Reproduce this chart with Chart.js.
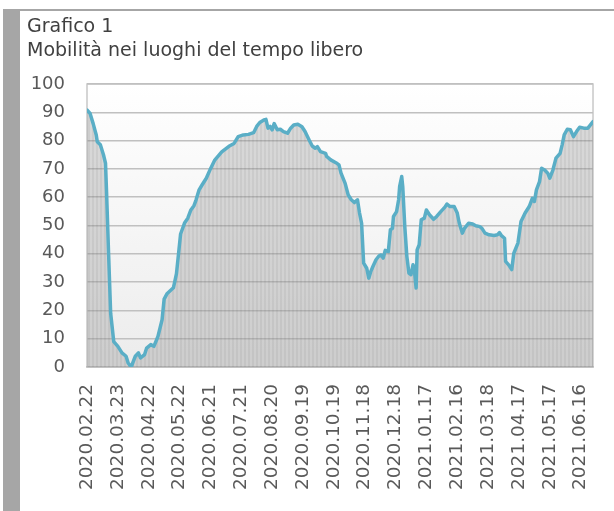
<!DOCTYPE html>
<html lang="it">
<head>
<meta charset="utf-8">
<script src="https://cdn.jsdelivr.net/npm/chart.js@4.4.1/dist/chart.umd.min.js"></script>
<style>
	html, body { margin: 0; padding: 0; background: #fff; }
	.frame { position: relative; width: 614px; height: 511px; overflow: hidden; }
	.side { position: absolute; left: 3px; top: 9px; bottom: 0; width: 17px; background: #a6a6a6; }
	.topline { position: absolute; left: 3px; right: 0; top: 9px; height: 2px; background: #a6a6a6; }
	.title { position: absolute; left: 27px; top: 13px; font: 19px "DejaVu Sans", sans-serif; color: #404040; line-height: 24px; }
	.plot { position: absolute; left: 0; top: 0; width: 614px; height: 511px; }
</style>
</head>
<body>
<div class="frame">
	<div class="side"></div>
	<div class="topline"></div>
	<div class="plot"><canvas id="chart"></canvas></div>
	<div class="title">Grafico 1<br>Mobilità nei luoghi del tempo libero</div>
</div>
<script>
// days since 2020.02.22
const dayIndex = [
	0, 3, 6, 9, 10, 13, 16, 18, 19, 21, 23, 26, 30, 34, 38, 40, 43, 47, 50, 52,
	56, 58, 62, 65, 67, 69, 73, 75, 78, 84, 87, 91, 95, 98, 101, 104, 106, 109, 112, 116,
	120, 124, 131, 138, 143, 147, 152, 157, 162, 165, 168, 172, 174, 176, 178, 180, 182, 185, 188, 191,
	195, 198, 201, 205, 209, 212, 216, 219, 222, 224, 227, 232, 233, 237, 242, 245, 247, 251, 254, 257,
	260, 263, 265, 267, 269, 272, 274, 276, 278, 281, 284, 286, 288, 290, 293, 295, 297, 298, 301, 303,
	304, 306, 307, 309, 311, 313, 315, 317, 318, 320, 321, 323, 325, 328, 330, 333, 337, 340, 344, 348,
	350, 353, 357, 360, 362, 365, 367, 371, 375, 378, 382, 384, 387, 391, 396, 399, 401, 403, 406, 407,
	410, 413, 415, 419, 422, 426, 430, 433, 435, 437, 440, 442, 445, 448, 450, 453, 456, 460, 462, 464,
	467, 470, 473, 476, 479, 483, 487, 492
];

const mobility = [
	90.8, 89.6, 86, 82, 79.6, 78.5, 75, 72, 62, 40, 19, 9, 7.3, 5, 3.8, 1.4, 0, 3.8, 5, 3.2,
	4.4, 6.7, 7.9, 7.3, 9, 10.8, 16.7, 24, 26, 28, 33, 47, 51, 52.6, 55.5, 57, 59, 62.6, 64.4, 66.7,
	70, 73, 76, 78, 79, 81.4, 82, 82.2, 82.8, 85, 86.4, 87.3, 87.5, 84.4, 85, 83.8, 86, 83.8, 84, 83.2,
	82.6, 84.4, 85.5, 85.8, 84.9, 83.2, 80.2, 78.1, 77.3, 77.9, 76.1, 75.5, 74.4, 73.2, 72.2, 71.4, 68.5, 64.9, 60.8, 59.1,
	58.1, 59.1, 54.4, 50.8, 36.7, 34.9, 31.4, 33.8, 35.5, 37.9, 39.3, 39.6, 38.5, 41.2, 40.8, 48.5, 49, 53.2, 54.9, 59.1,
	63.8, 67.3, 63.8, 49.6, 39.1, 33.2, 32.6, 36.1, 35.5, 27.9, 41.4, 43.2, 52, 52.6, 55.5, 53.8, 52.2, 53.2, 54.9, 56.5,
	57.6, 56.7, 56.7, 54.4, 50.8, 47.3, 49, 50.8, 50.5, 49.9, 49.6, 49, 47.3, 46.7, 46.5, 46.7, 47.5, 46.4, 45.5, 37.3,
	36.1, 34.4, 40.2, 43.8, 51.4, 54.4, 56.7, 59.6, 58.5, 62.6, 65.5, 70.2, 69.6, 68.5, 66.7, 69.6, 73.8, 75.5, 78.5, 82,
	84, 83.8, 81.4, 83.2, 84.7, 84.4, 84.4, 86.7
];

const tickLabels = [
	"2020.02.22", "2020.03.23", "2020.04.22", "2020.05.22", "2020.06.21", "2020.07.21",
	"2020.08.20", "2020.09.19", "2020.10.19", "2020.11.18", "2020.12.18", "2021.01.17",
	"2021.02.16", "2021.03.18", "2021.04.17", "2021.05.17", "2021.06.16"
];
const TICK_STEP = 30;
const LAST_DAY = 492;

const FONT = "'DejaVu Sans', sans-serif";
const TEXT_COLOR = "#595959";
const GRID_COLOR = "#c0c0c0";
const LINE_COLOR = "#5aaec6";

// thin vertical stripes for the area under the line
const stripeCanvas = document.createElement("canvas");
stripeCanvas.width = 4;
stripeCanvas.height = 1;
const sctx = stripeCanvas.getContext("2d");
sctx.fillStyle = "rgba(135,135,135,0.40)";
sctx.fillRect(0, 0, 2, 1);
sctx.fillStyle = "rgba(150,150,150,0.35)";
sctx.fillRect(2, 0, 2, 1);
const stripes = sctx.createPattern(stripeCanvas, "repeat");

const plotBackground = {
	id: "plotBackground",
	beforeDraw(chart) {
		const { ctx, chartArea: a } = chart;
		const g = ctx.createLinearGradient(0, a.top, 0, a.bottom);
		g.addColorStop(0, "#ffffff");
		g.addColorStop(1, "#ececec");
		ctx.save();
		ctx.fillStyle = g;
		ctx.fillRect(a.left, a.top, a.right - a.left, a.bottom - a.top);
		ctx.strokeStyle = "#c8c8c8";
		ctx.lineWidth = 1.5;
		ctx.strokeRect(a.left, a.top, a.right - a.left, a.bottom - a.top);
		ctx.restore();
	},
};

new Chart(document.getElementById("chart"), {
	type: "line",
	data: {
		datasets: [
			{
				data: dayIndex.map((d, i) => ({ x: d, y: mobility[i] })),
				borderColor: LINE_COLOR,
				borderWidth: 3.5,
				borderJoinStyle: "round",
				borderCapStyle: "round",
				backgroundColor: stripes,
				fill: "origin",
				pointRadius: 0,
				tension: 0,
			},
		],
	},
	options: {
		responsive: true,
		maintainAspectRatio: false,
		animation: false,
		layout: {
			padding: { top: 84, right: 21, left: 0, bottom: 0 },
		},
		plugins: {
			legend: { display: false },
			tooltip: { enabled: false },
		},
		scales: {
			x: {
				type: "linear",
				min: 0,
				max: LAST_DAY,
				afterBuildTicks: (axis) => {
					axis.ticks = tickLabels.map((_, i) => ({ value: i * TICK_STEP }));
				},
				afterFit: (axis) => {
					axis.height = 144;
				},
				grid: { display: false },
				border: { color: "#bdbdbd", width: 1.5 },
				ticks: {
					autoSkip: false,
					minRotation: 90,
					maxRotation: 90,
					padding: 9,
					color: TEXT_COLOR,
					font: { family: FONT, size: 18.5 },
					callback: (value) => tickLabels[Math.round(value / TICK_STEP)],
				},
			},
			y: {
				min: 0,
				max: 100,
				afterFit: (axis) => {
					axis.width = 87;
				},
				grid: { color: GRID_COLOR, lineWidth: 1.5, drawTicks: false },
				border: { display: false },
				ticks: {
					stepSize: 10,
					padding: 22,
					color: TEXT_COLOR,
					font: { family: FONT, size: 18 },
				},
			},
		},
	},
	plugins: [plotBackground],
});
</script>
</body>
</html>
